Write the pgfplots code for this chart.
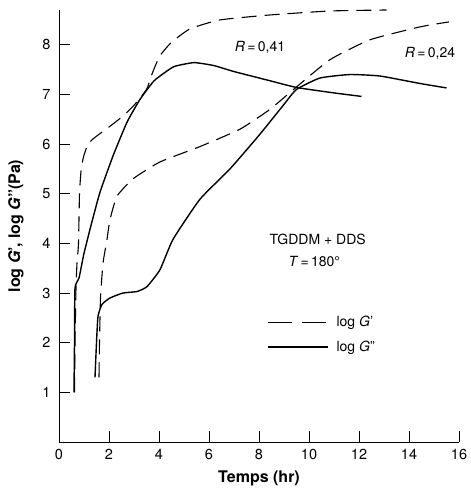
\documentclass[border=0pt]{standalone}
\usepackage{fontspec}
\setmainfont{TeX Gyre Heros}
\usepackage{pgfplots}
\pgfplotsset{compat=1.18}
\begin{document}
\begin{tikzpicture}
\begin{axis}[
    scale only axis, width=400pt, height=432pt,
    xmin=0, xmax=16, ymin=0, ymax=8.7,
    axis lines=left, axis line style={-, line width=0.9pt},
    xtick={0,2,...,16}, ytick={1,...,8},
    tick align=inside, major tick length=11pt,
    tick style={line width=0.9pt, black},
    /pgf/number format/assume math mode=true,
    ticklabel style={font=\fontsize{14.5}{14.5}\selectfont},
    xticklabel style={yshift=-4pt},
    yticklabel style={xshift=-5pt},
    label style={font=\fontsize{16}{16}\selectfont\bfseries},
    xlabel={Temps (hr)},
    xlabel style={yshift=-4pt},
    ylabel={log \textit{G}', log \textit{G}''(Pa)},
    ylabel style={yshift=12pt},
    legend style={draw=none, fill=none, at={(axis cs:8.2,2.62)}, anchor=north west,
        font=\fontsize{14}{14}\selectfont, row sep=9pt},
    legend cell align=left,
    legend image code/.code={\draw[#1] (0pt,0pt) -- (60pt,0pt);},
    clip=false,
]
\addlegendimage{black, line width=1.1pt, dash pattern=on 24pt off 10pt}
\addlegendentry{\hspace{6pt}log \textit{G}'}
\addlegendimage{black, line width=1.4pt}
\addlegendentry{\hspace{6pt}log \textit{G}''}

% G' , R = 0.41
\addplot[black, line width=1.1pt, dash pattern=on 15pt off 8pt, smooth, tension=0.3, forget plot] coordinates {
(0.62,1.0)(0.64,2.0)(0.68,3.1)(0.72,3.6)(0.78,4.0)(0.82,5.0)(0.88,5.45)(0.96,5.7)(1.04,5.84)(1.16,6.0)(1.4,6.12)(1.72,6.24)(2.2,6.42)(2.64,6.6)(3.0,6.78)(3.5,7.1)(3.75,7.45)(4.04,7.78)(4.5,8.05)(5.24,8.32)(6.44,8.5)(8.44,8.6)(10.84,8.68)(13.1,8.7)
};
% G'' , R = 0.41
\addplot[black, line width=1.4pt, smooth, tension=0.3, forget plot] coordinates {
(0.6,1.0)(0.62,2.0)(0.64,3.1)(0.8,3.3)(1.0,3.8)(1.3,4.4)(1.64,5.03)(2.16,5.76)(2.72,6.44)(3.24,6.9)(3.76,7.25)(4.04,7.37)(4.6,7.56)(5.4,7.64)(6.2,7.58)(7.0,7.46)(8.4,7.28)(9.5,7.14)(11,7.03)(12.1,6.96)
};
% G' , R = 0.24
\addplot[black, line width=1.1pt, dash pattern=on 15pt off 8pt, smooth, tension=0.3, forget plot] coordinates {
(1.6,1.3)(1.62,2.0)(1.66,2.9)(1.76,3.6)(1.92,4.08)(2.04,4.48)(2.32,4.95)(2.96,5.3)(4.04,5.64)(5.64,5.95)(7.24,6.3)(8.44,6.7)(9.5,7.15)(10.84,7.7)(12.44,8.1)(14.44,8.36)(15.6,8.46)
};
% G'' , R = 0.24
\addplot[black, line width=1.4pt, smooth, tension=0.3, forget plot] coordinates {
(1.44,1.3)(1.5,2.0)(1.56,2.53)(1.72,2.77)(2.04,2.9)(2.56,3.0)(3.12,3.03)(3.52,3.13)(4.04,3.47)(4.56,4.08)(5.64,4.89)(6.84,5.5)(8.04,6.2)(9.0,6.8)(9.5,7.1)(10.44,7.33)(11.64,7.4)(12.84,7.37)(14.44,7.22)(15.5,7.13)
};

\node[font=\fontsize{14}{14}\selectfont] at (axis cs:8.04,7.94) {\textit{R}\,=\,0,41};
\node[font=\fontsize{14}{14}\selectfont] at (axis cs:14.84,7.82) {\textit{R}\,=\,0,24};
\node[font=\fontsize{14}{14}\selectfont, anchor=west] at (axis cs:8.28,4.08) {TGDDM + DDS};
\node[font=\fontsize{14}{14}\selectfont, anchor=west] at (axis cs:9.04,3.64) {\textit{T}\,=\,180°};
\path (rel axis cs:0,1) ++(0,10pt);
\path (rel axis cs:0,0) ++(-59pt,-50pt);
\path (rel axis cs:1,0) ++(8pt,0);
\end{axis}
\end{tikzpicture}
\end{document}
